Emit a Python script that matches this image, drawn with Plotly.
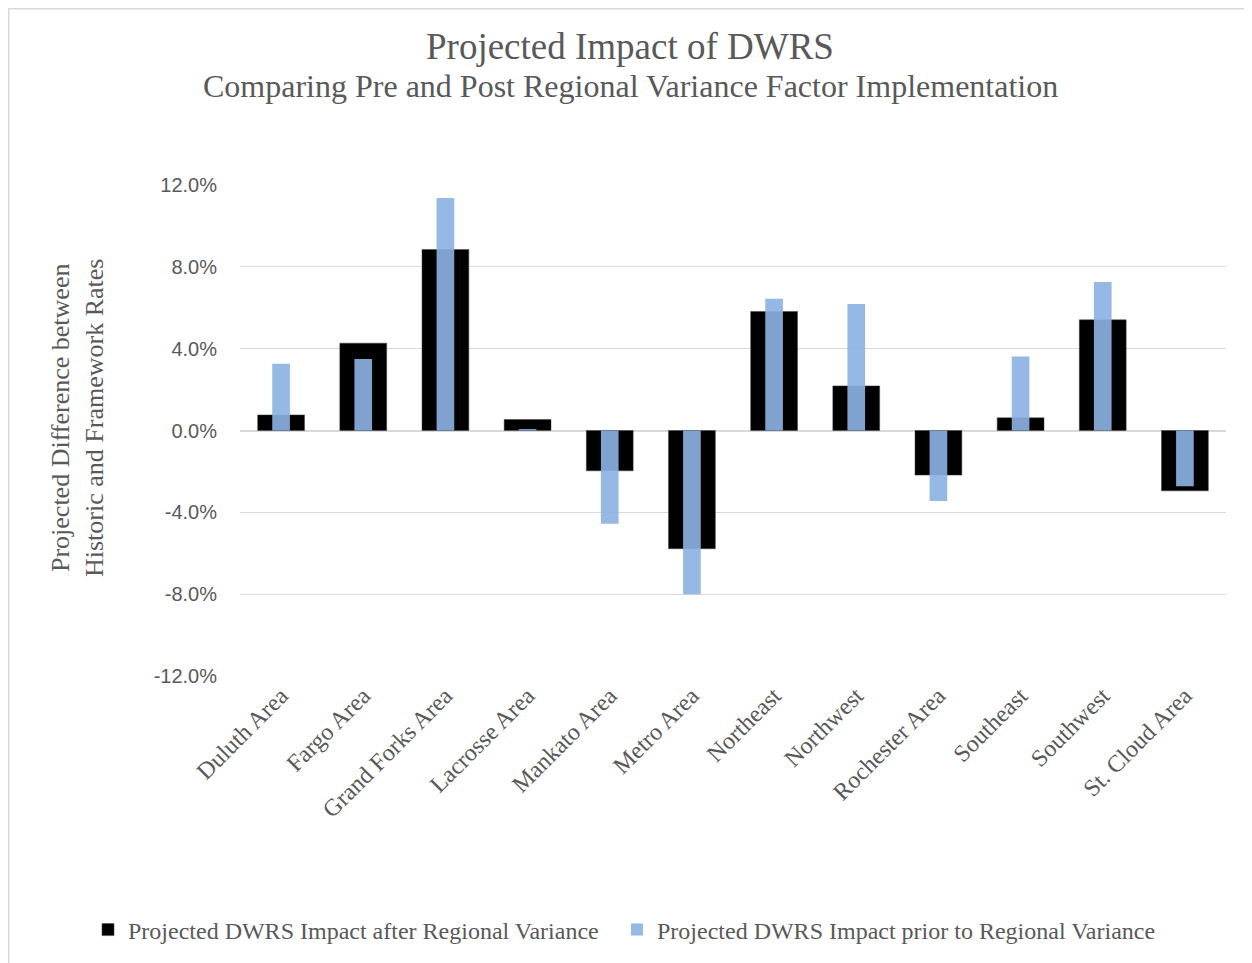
import plotly.graph_objects as go

regions = ["Duluth Area", "Fargo Area", "Grand Forks Area", "Lacrosse Area", "Mankato Area",
           "Metro Area", "Northeast", "Northwest", "Rochester Area", "Southeast",
           "Southwest", "St. Cloud Area"]
after_variance = [0.76, 4.27, 8.85, 0.54, -1.97, -5.78, 5.82, 2.18, -2.18, 0.62, 5.41, -2.95]
prior_variance = [3.26, 3.49, 11.37, 0.07, -4.56, -8.01, 6.44, 6.18, -3.44, 3.62, 7.26, -2.73]
y_ticks = [-12, -8, -4, 0, 4, 8, 12]
y_tick_text = ["-12.0%", "-8.0%", "-4.0%", "0.0%", "4.0%", "8.0%", "12.0%"]

serif = "Liberation Serif, Times New Roman, serif"
grey = "#595959"

# page puts the figure 8px in; plot area on screen spans x 240..1226, y 185..676
def px_x(x):
    return (x - 240) / 986

def px_y(y):
    return (676 - y) / 491

fig = go.Figure()
fig.add_trace(go.Bar(
    x=regions, y=after_variance, name="Projected DWRS Impact after Regional Variance",
    marker=dict(color="#000000", line=dict(color="#404040", width=0.5)), width=0.57,
    legend="legend",
))
fig.add_trace(go.Bar(
    x=regions, y=prior_variance, name="Projected DWRS Impact prior to Regional Variance",
    marker=dict(color="rgba(139,177,225,0.915)", line=dict(width=0)), width=0.215,
    legend="legend2",
))

legend_style = dict(orientation="h", xanchor="left", xref="container",
                    y=1 - 922 / 963, yanchor="middle", yref="container",
                    font=dict(family=serif, size=24, color=grey), itemwidth=30)

fig.update_layout(
    width=1252, height=963,
    barmode="overlay",
    paper_bgcolor="white", plot_bgcolor="white",
    margin=dict(l=232, r=34, t=177, b=295),
    font=dict(family=serif, color=grey),
    showlegend=True,
    legend=dict(x=80 / 1252, **legend_style),
    legend2=dict(x=609 / 1252, **legend_style),
    annotations=[
        dict(text="Projected Impact of DWRS", xref="paper", yref="paper",
             x=px_x(630), y=px_y(46), xanchor="center", yanchor="middle", showarrow=False,
             font=dict(family=serif, size=37, color=grey)),
        dict(text="Comparing Pre and Post Regional Variance Factor Implementation",
             xref="paper", yref="paper", x=px_x(630), y=px_y(86),
             xanchor="center", yanchor="middle", showarrow=False,
             font=dict(family=serif, size=32, color=grey)),
        dict(text="Projected Difference between<br>Historic and Framework Rates",
             xref="paper", yref="paper", x=px_x(77), y=px_y(418), textangle=-90,
             xanchor="center", yanchor="middle", showarrow=False,
             font=dict(family=serif, size=26, color=grey)),
    ],
    shapes=[
        dict(type="rect", xref="paper", yref="paper",
             x0=px_x(8.7), x1=px_x(1300), y0=px_y(1100), y1=px_y(8.7),
             line=dict(color="#d9d9d9", width=1.5), fillcolor="rgba(0,0,0,0)"),
    ],
)

fig.update_xaxes(
    tickangle=-45, tickfont=dict(family=serif, size=24, color=grey),
    showgrid=False, showline=False, ticks="",
)
fig.update_yaxes(
    range=[-12, 12], tickvals=y_ticks, ticktext=y_tick_text,
    tickfont=dict(family="Liberation Sans, Arial, sans-serif", size=20, color=grey),
    showgrid=True, gridcolor="#d9d9d9", gridwidth=1.3,
    zeroline=True, zerolinecolor="#d9d9d9", zerolinewidth=1.5,
    showline=False, ticks="", ticklabelstandoff=22,
)

fig.write_html("out.html")
